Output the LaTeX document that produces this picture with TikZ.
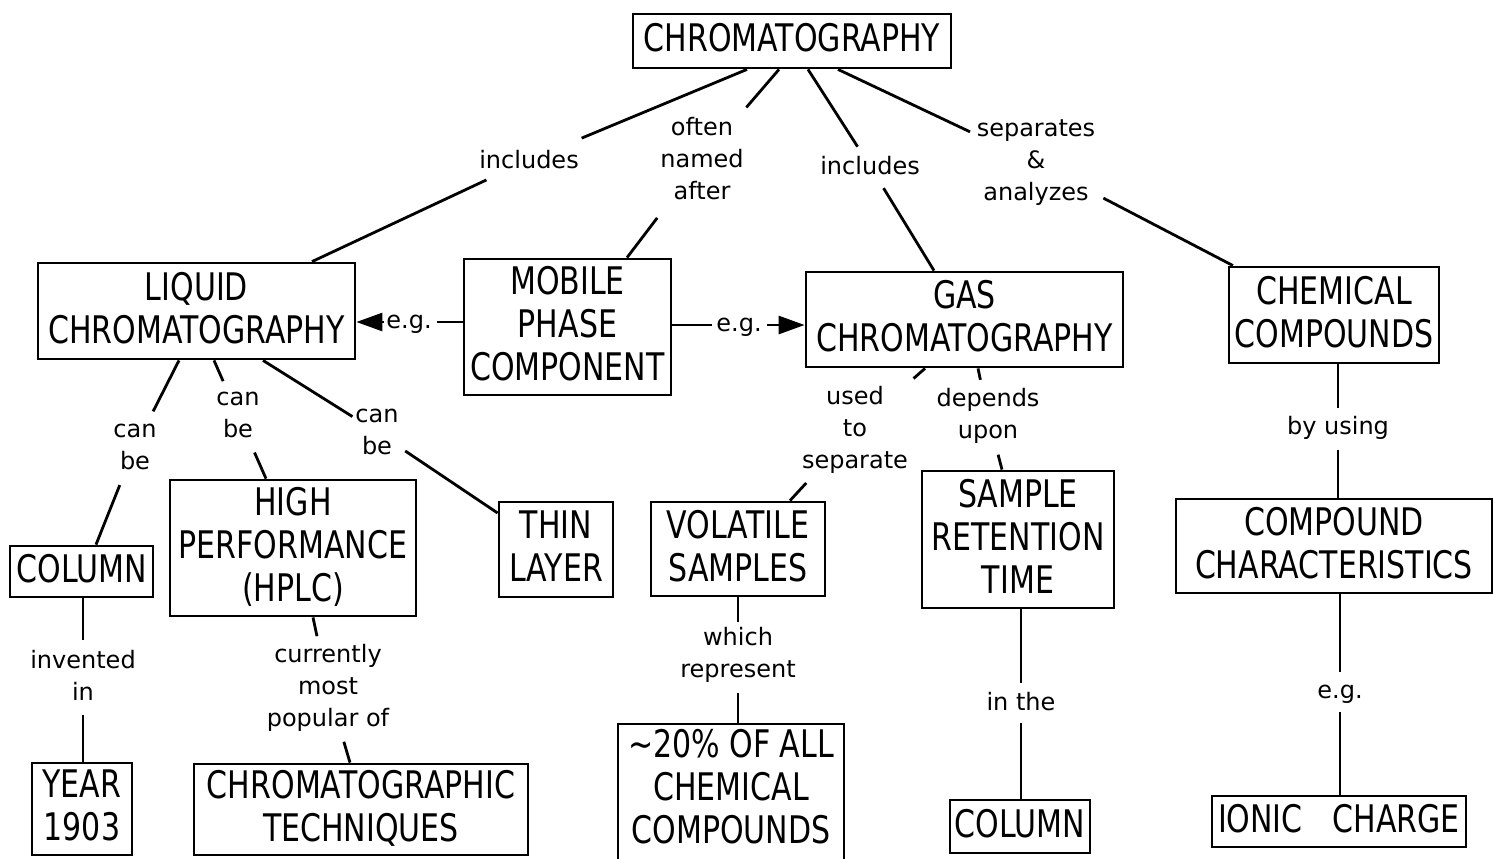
\documentclass[tikz,border=0pt]{standalone}
\usepackage{fontspec}
\setmainfont{DejaVu Sans}
\newfontfamily\boxfont{DejaVu Sans}[FakeStretch=0.79]
\usetikzlibrary{arrows.meta}

\tikzset{
  concept/.style={draw, line width=1.4pt, inner sep=0pt, align=center,
    font=\boxfont\fontsize{19}{21.5}\selectfont,
    execute at end node={\rule[-3.5pt]{0pt}{3.5pt}}},
  conceptText/.style={inner sep=0pt, align=center,
    font=\boxfont\fontsize{19}{21.5}\selectfont},
  linklabel/.style={inner sep=0pt, align=center,
    font=\fontsize{12}{16}\selectfont},
  flat/.style={text depth=0pt},
  link/.style={line width=1.4pt},
  tip/.style={-{Triangle[length=13pt,width=9pt]}}
}

\begin{document}
\begin{tikzpicture}[x=0.5pt,y=-0.5pt]
\useasboundingbox (0,0) rectangle (1493,858);

% concepts
\node[concept, minimum width=159pt,   minimum height=27pt]   (chrom)      at (792,41)      {CHROMATOGRAPHY};
\node[concept, minimum width=158.5pt, minimum height=48pt]   (liquid)     at (196.5,311)   {LIQUID\\CHROMATOGRAPHY};
\node[concept, minimum width=103.5pt, minimum height=68pt]   (mobile)     at (567.5,327)   {MOBILE\\PHASE\\COMPONENT};
\node[concept, minimum width=158.5pt, minimum height=47.5pt] (gas)        at (964.5,319.5) {GAS\\CHROMATOGRAPHY};
\node[concept, minimum width=105pt,   minimum height=48pt]   (chem)       at (1334,315)    {CHEMICAL\\COMPOUNDS};
\node[concept, minimum width=71.5pt,  minimum height=25.5pt] (columnA)    at (81.5,571.5)  {COLUMN};
\node[concept, minimum width=123pt,   minimum height=68pt]   (hplc)       at (293,548)     {HIGH\\PERFORMANCE\\(HPLC)};
\node[concept, minimum width=57pt,    minimum height=47.5pt] (thin)       at (556,549.5)   {THIN\\LAYER};
\node[concept, minimum width=87pt,    minimum height=47pt]   (volatile)   at (738,549)     {VOLATILE\\SAMPLES};
\node[concept, minimum width=96pt,    minimum height=68.5pt] (sample)     at (1018,539.5)  {SAMPLE\\RETENTION\\TIME};
\node[concept, minimum width=158pt,   minimum height=47pt]   (compchar)   at (1334,546)    {COMPOUND\\CHARACTERISTICS};
\node[concept, minimum width=50pt,    minimum height=46pt]   (year)       at (82,809)      {YEAR\\1903};
\node[concept, minimum width=167pt,   minimum height=45.5pt] (techniques) at (361,809.5)   {CHROMATOGRAPHIC\\TECHNIQUES};
\node[concept, minimum width=113pt,   minimum height=71pt]   (pct)        at (731,795)     {};
\node[conceptText]                                           (pcttext)    at (731,787)     {\textasciitilde 20\% OF ALL\\CHEMICAL\\COMPOUNDS};
\node[concept, minimum width=70pt,    minimum height=26.5pt] (columnB)    at (1020,826.5)  {COLUMN};
\node[concept, minimum width=127pt,   minimum height=25.5pt] (ionic)      at (1339,821.5)  {IONIC\hspace{15pt}CHARGE};

% linking phrases
\node[linklabel] (incL)     at (529,160)  {includes};
\node[linklabel] (often)    at (702,159)  {often\\named\\after};
\node[linklabel] (incR)     at (870,166)  {includes};
\node[linklabel] (sep)      at (1036,163) {separates\\\&\\analyzes};
\node[linklabel, flat] (egL) at (409,322) {e.g.};
\node[linklabel, flat] (egR) at (739,325) {e.g.};
\node[linklabel] (canL)     at (135,447)  {can\\be};
\node[linklabel] (canM)     at (238,415)  {can\\be};
\node[linklabel] (canR)     at (377,432)  {can\\be};
\node[linklabel] (used)     at (855,430)  {used\\to\\separate};
\node[linklabel] (depends)  at (988,416)  {depends\\upon};
\node[linklabel] (byusing)  at (1338,428) {by using};
\node[linklabel] (invented) at (83,675)   {invented\\in};
\node[linklabel] (popular)  at (328,688)  {currently\\most\\popular of};
\node[linklabel] (which)    at (738,655)  {which\\represent};
\node[linklabel] (inthe)    at (1021,702) {in the};
\node[linklabel, flat] (egB) at (1340,692) {e.g.};

% connectors from the root
\draw[link, shorten >=28.5pt] (chrom.south -| 747,0)   -- (incL.center);
\draw[link, shorten >=23.5pt] (liquid.north -| 312,0)  -- (incL.center);
\draw[link, shorten >=34pt]   (chrom.south -| 779,0)   -- (often.center);
\draw[link, shorten >=37pt]   (mobile.north -| 627,0)  -- (often.center);
\draw[link, shorten >=11.5pt] (chrom.south -| 808,0)   -- (incR.center);
\draw[link, shorten >=13pt]   (gas.north -| 934,0)     -- (incR.center);
\draw[link, shorten >=36.5pt] (chrom.south -| 838,0)   -- (sep.center);
\draw[link, shorten >=38pt]   (chem.north -| 1233,0)   -- (sep.center);

% liquid chromatography branches
\draw[link, shorten >=20pt]   (liquid.south -| 179,0)  -- (canL.center);
\draw[link, shorten >=20.5pt] (columnA.north -| 96,0)  -- (canL.center);
\draw[link, shorten >=18.5pt] (liquid.south -| 214,0)  -- (canM.center);
\draw[link, shorten >=20.5pt] (hplc.north -| 266,0)    -- (canM.center);
\draw[link, shorten >=14.5pt] (liquid.south -| 263,0)  -- (canR.center);
\draw[link, shorten >=17pt]   (thin.west |- 0,513)     -- (canR.center);

% gas chromatography branches
\draw[link, shorten >=39pt]   (gas.south -| 925,0)     -- (used.center);
\draw[link, shorten >=36pt]   (volatile.north -| 790,0) -- (used.center);
\draw[link, shorten >=18.5pt] (gas.south -| 978,0)     -- (depends.center);
\draw[link, shorten >=20pt]   (sample.north -| 1002,0) -- (depends.center);

% mobile phase examples
\draw[link, shorten >=14pt]        (mobile.west |- egL) -- (egL.center);
\draw[link, tip, shorten <=12.5pt] (egL.center) -- (liquid.east |- egL);
\draw[link, shorten >=13.5pt]      (mobile.east |- egR) -- (egR.center);
\draw[link, tip, shorten <=14pt]   (egR.center) -- (gas.west |- egR);

% vertical links
\draw[link, shorten >=10pt]   (chem.south -| byusing)     -- (byusing.center);
\draw[link, shorten >=11pt]   (compchar.north -| byusing) -- (byusing.center);
\draw[link, shorten >=17.5pt] (columnA.south -| invented) -- (invented.center);
\draw[link, shorten >=20pt]   (year.north -| invented)    -- (invented.center);
\draw[link, shorten >=26.5pt] (hplc.south -| 313,0)       -- (popular.center);
\draw[link, shorten >=28pt]   (techniques.north -| 350,0) -- (popular.center);
\draw[link, shorten >=16.5pt] (volatile.south -| which)   -- (which.center);
\draw[link, shorten >=19pt]   (pct.north -| which)        -- (which.center);
\draw[link, shorten >=9.5pt]  (sample.south -| inthe)     -- (inthe.center);
\draw[link, shorten >=10.5pt] (columnB.north -| inthe)    -- (inthe.center);
\draw[link, shorten >=10pt]   (compchar.south -| egB)     -- (egB.center);
\draw[link, shorten >=10pt]   (ionic.north -| egB)        -- (egB.center);
\end{tikzpicture}
\end{document}
